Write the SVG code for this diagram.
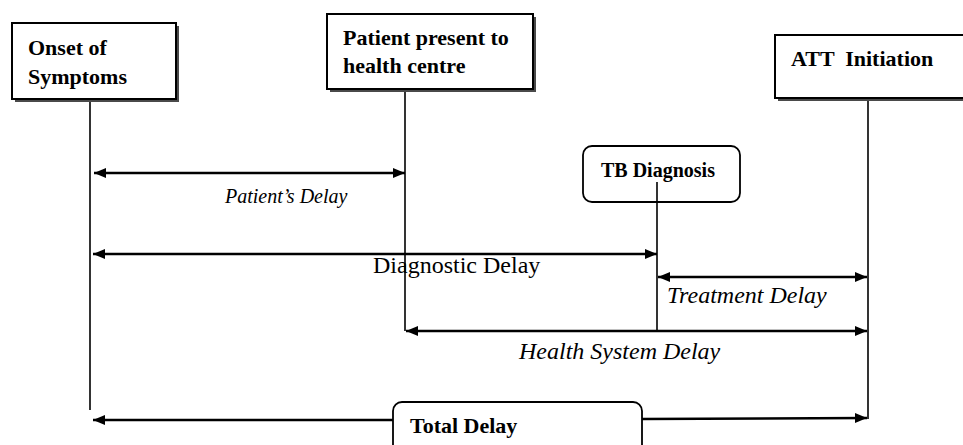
<svg xmlns="http://www.w3.org/2000/svg" width="963" height="445" viewBox="0 0 963 445">
<style>
.box{fill:#fff;stroke:#000;stroke-width:2}
.shadow{fill:#4a4a4a}
.rbox{fill:#fff;stroke:#000;stroke-width:1.8}
.bold{font-family:"Liberation Serif","Times New Roman",serif;font-weight:bold;fill:#000}
.ital{font-family:"Liberation Serif","Times New Roman",serif;font-style:italic;fill:#000}
.reg{font-family:"Liberation Serif","Times New Roman",serif;fill:#000}
.vline{stroke:#000;stroke-width:1.6;fill:none}
.arrow{stroke:#000;stroke-width:2.4;fill:none}
</style>
<defs>
<marker id="ah" markerUnits="userSpaceOnUse" markerWidth="14" markerHeight="12" refX="12" refY="5" orient="auto-start-reverse" viewBox="0 0 14 12">
<path d="M0,0 L12,5 L0,10 Z" fill="#000"/>
</marker>
</defs>
<rect width="963" height="445" fill="#fff"/>
<g id="connectors">
<line class="vline" x1="90" y1="100" x2="90" y2="410"/>
<line class="vline" x1="405" y1="90" x2="405" y2="331"/>
<line class="vline" x1="657" y1="182" x2="657" y2="331"/>
<line class="vline" x1="868" y1="99" x2="868" y2="419"/>
<line class="arrow" x1="94" y1="173" x2="405" y2="173" marker-start="url(#ah)" marker-end="url(#ah)"/>
<line class="arrow" x1="93" y1="254" x2="657" y2="254" marker-start="url(#ah)" marker-end="url(#ah)"/>
<line class="arrow" x1="658" y1="277" x2="867" y2="277" marker-start="url(#ah)" marker-end="url(#ah)"/>
<line class="arrow" x1="406" y1="331" x2="867" y2="331" marker-start="url(#ah)" marker-end="url(#ah)"/>
<line class="arrow" x1="393" y1="420" x2="93" y2="420" marker-end="url(#ah)"/>
<line class="arrow" x1="642" y1="419" x2="867" y2="418" marker-end="url(#ah)"/>
<text class="ital" x="225" y="203" font-size="20">Patient’s Delay</text>
<text class="reg" x="373" y="273" font-size="24">Diagnostic Delay</text>
<text class="ital" x="667" y="303" font-size="24">Treatment Delay</text>
<text class="ital" x="519" y="359" font-size="24">Health System Delay</text>
</g>
<g id="onset">
<rect class="shadow" x="15" y="26" width="164" height="76"/>
<rect class="box" x="12" y="23" width="164" height="76"/>
<text class="bold" x="28" y="55" font-size="22">Onset of</text>
<text class="bold" x="28" y="84" font-size="22">Symptoms</text>
</g>
<g id="present">
<rect class="shadow" x="330" y="17" width="206" height="75"/>
<rect class="box" x="327" y="14" width="206" height="75"/>
<text class="bold" x="343" y="45" font-size="22">Patient present to</text>
<text class="bold" x="343" y="73" font-size="22">health centre</text>
</g>
<g id="att">
<rect class="shadow" x="778" y="38" width="200" height="63"/>
<rect class="box" x="775" y="35" width="200" height="63"/>
<text class="bold" x="791" y="66" font-size="22" xml:space="preserve">ATT  Initiation</text>
</g>
<g id="tb">
<rect class="rbox" x="583" y="146" width="157" height="56" rx="9"/>
<line class="vline" x1="657" y1="182" x2="657" y2="202"/>
<text class="bold" x="601" y="177" font-size="20">TB Diagnosis</text>
</g>
<g id="total">
<rect class="rbox" x="393" y="402" width="249" height="60" rx="9"/>
<text class="bold" x="410" y="433" font-size="22">Total Delay</text>
</g>
</svg>
